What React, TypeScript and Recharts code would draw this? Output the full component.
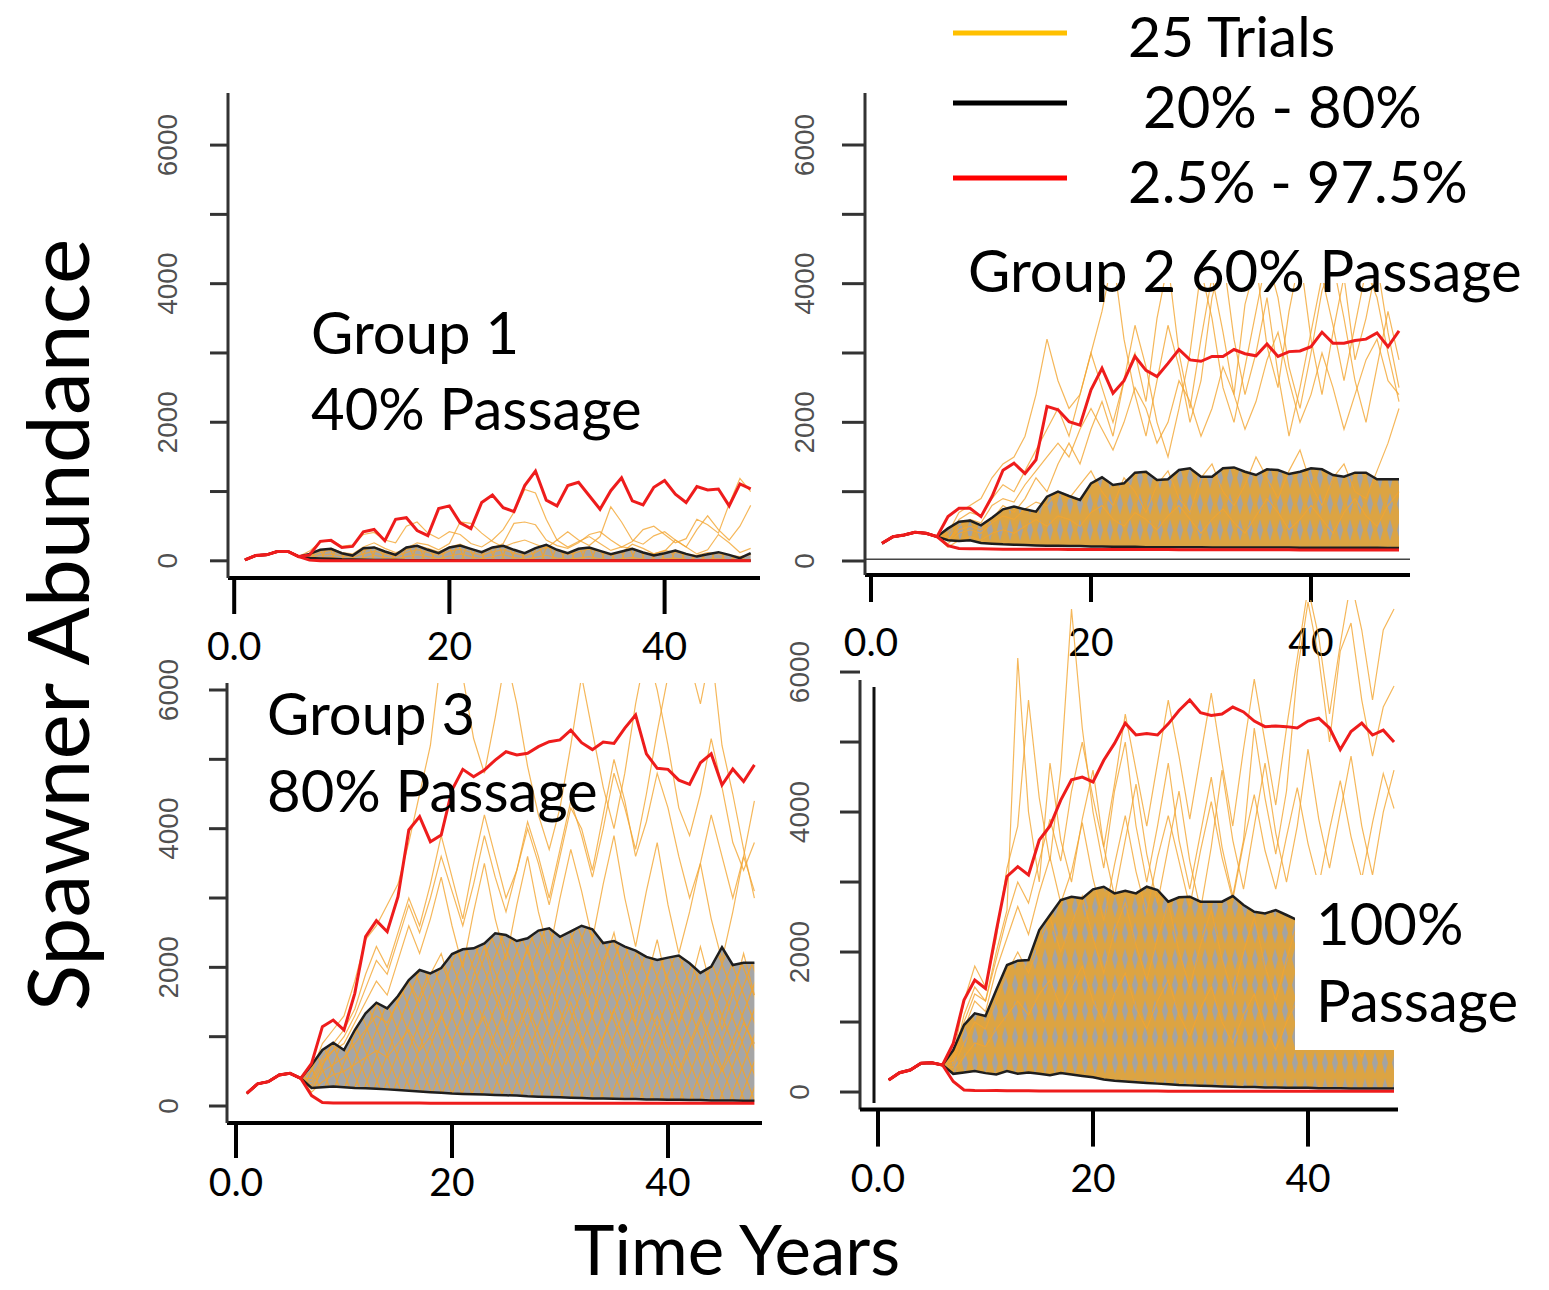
import React from "react";
import { ComposedChart, Line, Area, XAxis, YAxis, ReferenceLine } from "recharts";

// simulation years (x axis)
const YEARS = [
  1, 2, 3, 4, 5, 6, 7, 8, 9, 10, 11, 12, 13, 14, 15, 16, 17, 18, 19, 20, 21, 22, 23, 24,
  25, 26, 27, 28, 29, 30, 31, 32, 33, 34, 35, 36, 37, 38, 39, 40, 41, 42, 43, 44, 45, 46, 47, 48,
];
const X_TICKS = [0, 20, 40];
const Y_TICKS = [0, 1000, 2000, 3000, 4000, 5000, 6000];

// ---- Group 1, 40% passage ----
const P1_START = [13, 76, 86, 135, 135, 61];
const P1_HI95 = [...P1_START, 86, 281, 295, 193, 208, 418, 452, 290, 598, 622, 437, 364, 754, 793, 549, 466, 842, 949, 768, 710, 1086, 1295, 876, 793, 1086, 1134, 939, 744, 1012, 1198, 866, 807, 1061, 1159, 963, 842, 1071, 1022, 1037, 793, 1110, 1037];
const P1_HI80 = [...P1_START, 100, 159, 173, 110, 76, 183, 193, 135, 86, 193, 217, 159, 110, 193, 222, 173, 125, 193, 217, 159, 110, 183, 232, 159, 110, 173, 193, 144, 95, 135, 173, 120, 76, 110, 149, 100, 61, 95, 125, 86, 37, 110];
const P1_LO80 = [...P1_START, 40, 35, 30, 22, 18, 14, 12, 10, 10, 9, 8, 8, 7, 7, 6, 6, 6, 5, 5, 5, 5, 5, 4, 4, 4, 4, 4, 4, 3, 3, 3, 3, 3, 3, 3, 3, 2, 2, 2, 2, 2, 2];
const P1_LO95 = [...P1_START, 10, 2, 0, 0, 0, 0, 0, 0, 0, 0, 0, 0, 0, 0, 0, 0, 0, 0, 0, 0, 0, 0, 0, 0, 0, 0, 0, 0, 0, 0, 0, 0, 0, 0, 0, 0, 0, 0, 0, 0, 0, 0];
const P1_TRIALS = [
  [...P1_START, 140, 270, 300, 210, 230, 380, 410, 300, 260, 500, 560, 400, 320, 420, 380, 250, 200, 300, 450, 700, 1030, 980, 600, 300, 200, 280, 350, 250, 150, 200, 180, 120, 100, 150, 120, 90, 80, 120, 100, 80, 60, 90],
  [...P1_START, 90, 150, 180, 120, 100, 200, 260, 180, 120, 160, 220, 180, 130, 200, 240, 170, 120, 180, 250, 540, 560, 520, 300, 220, 180, 260, 380, 420, 300, 200, 280, 450, 500, 380, 260, 320, 600, 520, 400, 820, 1190, 1000],
  [...P1_START, 60, 120, 150, 100, 80, 150, 200, 140, 100, 180, 260, 230, 160, 250, 560, 540, 400, 280, 200, 260, 300, 240, 180, 300, 420, 300, 220, 350, 780, 560, 300, 240, 360, 420, 300, 200, 450, 650, 450, 300, 500, 800],
  [...P1_START, 40, 80, 100, 70, 50, 100, 140, 100, 60, 120, 160, 120, 80, 140, 170, 120, 80, 130, 160, 110, 70, 120, 200, 150, 90, 130, 170, 130, 80, 120, 240, 180, 100, 140, 300, 200, 100, 160, 380, 260, 120, 180],
  [...P1_START, 20, 40, 60, 30, 20, 40, 80, 50, 30, 60, 90, 60, 30, 70, 100, 60, 30, 60, 90, 50, 20, 50, 80, 40, 20, 40, 60, 30, 10, 30, 50, 20, 10, 30, 40, 20, 10, 20, 30, 10, 5, 20],
];

// ---- Group 2, 60% passage ----
const P2_START = [255, 351, 375, 413, 400, 351];
const P2_HI95 = [...P2_START, 640, 760, 760, 640, 930, 1310, 1410, 1260, 1460, 2230, 2180, 2010, 1960, 2470, 2780, 2420, 2600, 2950, 2750, 2660, 2850, 3050, 2900, 2880, 2950, 2950, 3050, 2990, 2960, 3130, 2950, 3020, 3030, 3090, 3300, 3140, 3140, 3180, 3200, 3290, 3090, 3320];
const P2_HI80 = [...P2_START, 470, 567, 582, 514, 625, 745, 784, 745, 711, 928, 1000, 937, 880, 1120, 1207, 1096, 1120, 1274, 1288, 1168, 1178, 1312, 1337, 1216, 1216, 1337, 1350, 1288, 1240, 1322, 1312, 1254, 1288, 1337, 1322, 1240, 1216, 1274, 1274, 1178, 1178, 1178];
const P2_LO80 = [...P2_START, 300, 290, 300, 260, 250, 240, 235, 230, 225, 220, 220, 215, 215, 210, 210, 205, 205, 205, 200, 200, 200, 200, 198, 198, 196, 196, 195, 195, 194, 194, 193, 193, 192, 192, 191, 191, 190, 190, 190, 190, 189, 189];
const P2_LO95 = [...P2_START, 220, 180, 175, 175, 172, 170, 170, 170, 168, 168, 168, 166, 166, 166, 165, 165, 165, 165, 164, 164, 164, 163, 163, 163, 162, 162, 162, 162, 161, 161, 161, 161, 160, 160, 160, 160, 160, 160, 160, 160, 160, 160];
const P2_TRIALS = [
  [...P2_START, 400, 700, 800, 900, 1200, 1400, 1500, 1800, 2400, 3200, 2600, 2200, 2400, 3000, 2500, 2000, 2600, 3400, 2800, 2000, 1500, 2200, 3000, 4200, 3500, 2500, 2000, 2800, 3600, 4400, 3800, 2800, 2200, 3000, 3900, 4300, 3500, 2600, 2000, 2800, 3600, 2900],
  [...P2_START, 350, 600, 700, 650, 900, 1100, 1000, 1300, 1600, 1900, 2200, 1800, 2400, 3000, 3600, 4400, 3200, 2400, 1800, 2600, 3400, 2800, 2000, 2600, 3800, 4400, 3200, 2400, 3000, 3800, 2700, 1800, 2500, 3300, 4100, 3400, 2600, 3400, 4200, 3800, 3000, 2300],
  [...P2_START, 300, 500, 600, 550, 800, 900, 850, 1100, 1300, 1500, 1700, 1500, 1900, 2200, 1900, 1600, 2000, 2500, 2200, 1700, 2000, 2600, 2300, 1800, 2200, 2800, 2400, 1900, 2300, 2900, 3300, 2600, 2000, 2400, 3000, 2500, 1900, 2400, 2900, 3200, 2600, 2400],
  [...P2_START, 250, 400, 450, 400, 550, 650, 600, 750, 850, 800, 1000, 900, 1100, 1300, 1000, 800, 1200, 1000, 700, 1100, 1300, 900, 700, 1200, 1400, 1000, 800, 1100, 1500, 1200, 900, 1300, 1600, 1100, 800, 1200, 1400, 1000, 900, 1300, 1700, 2200],
  [...P2_START, 200, 300, 350, 300, 400, 450, 400, 500, 600, 500, 650, 600, 500, 700, 800, 600, 500, 700, 600, 450, 650, 800, 600, 400, 600, 750, 550, 400, 650, 900, 700, 450, 600, 800, 600, 400, 700, 900, 650, 500, 800, 1000],
  [...P2_START, 300, 450, 500, 450, 600, 800, 700, 900, 1200, 1000, 1400, 1700, 1400, 1900, 2300, 1800, 2600, 3000, 2300, 3500, 4300, 3000, 2200, 3200, 4100, 3300, 2400, 3700, 4300, 3100, 2500, 3600, 4400, 3200, 2400, 3300, 4100, 2900, 3500, 4300, 3300, 2500],
];

// ---- Group 3, 80% passage ----
const P3_START = [183, 320, 351, 447, 471, 399];
const P3_HI95 = [...P3_START, 615, 1144, 1240, 1096, 1625, 2442, 2673, 2514, 3019, 3981, 4173, 3812, 3909, 4558, 4856, 4750, 4846, 4990, 5110, 5063, 5087, 5183, 5255, 5280, 5420, 5240, 5140, 5250, 5230, 5450, 5640, 5080, 4870, 4856, 4700, 4640, 4950, 5080, 4630, 4860, 4680, 4920];
const P3_HI80 = [...P3_START, 591, 808, 913, 808, 1096, 1337, 1490, 1409, 1587, 1817, 1962, 1913, 1990, 2192, 2260, 2274, 2346, 2490, 2466, 2380, 2420, 2530, 2562, 2440, 2520, 2600, 2550, 2350, 2380, 2300, 2240, 2150, 2106, 2140, 2170, 2058, 1920, 2010, 2290, 2034, 2067, 2067];
const P3_LO80 = [...P3_START, 260, 270, 280, 270, 260, 255, 250, 240, 230, 220, 210, 200, 190, 180, 175, 170, 165, 160, 155, 150, 140, 135, 130, 125, 120, 115, 110, 110, 105, 100, 100, 95, 95, 90, 90, 85, 85, 80, 80, 80, 75, 75];
const P3_LO95 = [...P3_START, 150, 50, 45, 45, 44, 44, 43, 43, 42, 42, 42, 41, 41, 41, 40, 40, 40, 40, 40, 40, 40, 40, 40, 40, 40, 40, 40, 40, 40, 40, 40, 40, 40, 40, 40, 40, 40, 40, 40, 40, 40, 40];
const P3_TRIALS = [
  [...P3_START, 500, 900, 1100, 1300, 1800, 2400, 2600, 2900, 3200, 3800, 4500, 5200, 6500, 7000, 6200, 5300, 4800, 5600, 6500, 5800, 4900, 4200, 3700, 4300, 5200, 6200, 5400, 4600, 4000, 4800, 5800, 6600, 6000, 5200, 4300, 3900, 4500, 5300, 4600, 3800, 3400, 3800],
  [...P3_START, 400, 700, 900, 1100, 1400, 1900, 2300, 2000, 2500, 3000, 2600, 3200, 3900, 3300, 2700, 3500, 4200, 3600, 3000, 3400, 4000, 3500, 2900, 3600, 4300, 4000, 3400, 4200, 5000, 4400, 3600, 4100, 4800, 4300, 3600, 3000, 3500, 4200, 3600, 3000, 3600, 4400],
  [...P3_START, 300, 600, 800, 900, 1200, 1500, 1800, 1600, 2100, 2600, 2200, 2700, 3300, 2600, 2000, 2800, 3500, 2700, 2100, 2900, 3600, 2800, 2200, 3000, 3700, 3100, 2400, 3200, 3900, 3000, 2300, 3100, 3800, 2900, 2200, 2800, 3500, 2700, 2100, 2800, 3600, 3100],
  [...P3_START, 250, 500, 600, 700, 900, 1100, 1300, 1200, 1500, 1800, 1500, 1900, 2200, 1700, 1300, 1900, 2300, 1700, 1200, 1800, 2300, 1700, 1200, 1900, 2400, 1800, 1300, 2000, 2500, 1800, 1200, 1800, 2400, 1700, 1200, 1700, 2300, 1700, 1100, 1600, 2200, 1600],
  [...P3_START, 200, 350, 450, 500, 600, 700, 800, 700, 900, 1100, 800, 1000, 1300, 900, 600, 1000, 1300, 900, 600, 1000, 1400, 900, 600, 1100, 1500, 1000, 600, 1000, 1400, 900, 500, 900, 1300, 800, 500, 900, 1300, 800, 500, 800, 1200, 900],
  [...P3_START, 350, 650, 800, 1000, 1300, 1700, 2100, 1900, 2400, 2900, 2500, 3000, 3600, 3100, 2600, 3200, 3900, 3300, 2800, 3400, 4100, 3600, 3000, 3700, 4400, 3900, 3300, 4000, 4800, 4300, 3700, 4500, 5400, 6200, 6800, 6400, 5800, 6600, 5200, 4500, 3700, 3000],
];

// ---- 100% passage ----
const P4_START = [171, 276, 314, 410, 419, 386];
const P4_HI95 = [...P4_START, 695, 1314, 1600, 1480, 2300, 3080, 3220, 3100, 3600, 3800, 4170, 4460, 4500, 4430, 4740, 4980, 5270, 5100, 5120, 5100, 5260, 5450, 5600, 5420, 5380, 5400, 5500, 5430, 5300, 5220, 5230, 5220, 5200, 5300, 5340, 5200, 4890, 5150, 5270, 5100, 5170, 5000];
const P4_HI80 = [...P4_START, 600, 957, 1124, 1086, 1457, 1814, 1876, 1886, 2314, 2529, 2743, 2790, 2767, 2895, 2933, 2838, 2876, 2838, 2933, 2886, 2719, 2781, 2790, 2719, 2719, 2719, 2800, 2671, 2576, 2552, 2600, 2529, 2457, 2450, 2500, 2400, 2350, 2450, 2400, 2350, 2400, 2400];
const P4_LO80 = [...P4_START, 260, 280, 300, 270, 250, 300, 260, 280, 260, 240, 270, 250, 230, 210, 180, 160, 150, 140, 130, 120, 110, 100, 95, 90, 85, 80, 75, 70, 70, 65, 65, 60, 60, 60, 55, 55, 55, 50, 50, 50, 50, 50];
const P4_LO95 = [...P4_START, 150, 30, 22, 20, 20, 18, 18, 18, 16, 16, 16, 15, 15, 15, 14, 14, 14, 13, 13, 13, 12, 12, 12, 11, 11, 11, 10, 10, 10, 10, 10, 10, 10, 10, 10, 10, 10, 10, 10, 10, 10, 10];
const P4_TRIALS = [
  [...P4_START, 500, 1300, 1800, 1500, 2200, 3200, 3800, 5600, 4200, 3300, 4600, 6900, 5200, 4000, 3200, 4300, 5000, 3800, 3000, 3800, 4700, 3600, 2900, 3700, 4500, 3500, 2800, 3600, 5200, 4200, 3400, 4300, 6000, 7000, 6200, 5000, 6300, 6700, 5600, 4800, 5500, 5800],
  [...P4_START, 450, 1100, 1500, 1300, 2000, 2600, 6200, 4000, 3000, 4700, 3600, 3000, 3900, 4600, 3500, 2800, 3600, 4400, 3400, 2700, 3500, 4300, 3300, 2600, 3500, 4600, 3600, 2900, 3800, 4700, 3700, 3000, 3800, 4900, 3900, 3200, 4000, 4800, 3800, 3100, 4000, 4600],
  [...P4_START, 400, 900, 1300, 1150, 1750, 2200, 2650, 2250, 2850, 3350, 2700, 3150, 3850, 3050, 2450, 3250, 3950, 3150, 2550, 3350, 3950, 3300, 2650, 3450, 4150, 3350, 2750, 3550, 4250, 3450, 2900, 3650, 4350, 3550, 2950, 3750, 4450, 3650, 3050, 3850, 4550, 4050],
  [...P4_START, 350, 700, 1000, 900, 1300, 1700, 2000, 1700, 2100, 2500, 2000, 2400, 2800, 2200, 1700, 2300, 2700, 2100, 1600, 2200, 2700, 2000, 1500, 2100, 2600, 1900, 1400, 2000, 2500, 1800, 1300, 1900, 2400, 1700, 1200, 1800, 2300, 1600, 1100, 1700, 2200, 1500],
  [...P4_START, 300, 500, 700, 650, 900, 1100, 1300, 1100, 1400, 1600, 1200, 1500, 1800, 1300, 1000, 1400, 1700, 1200, 900, 1300, 1600, 1100, 800, 1200, 1500, 1000, 700, 1100, 1400, 900, 600, 1000, 1300, 800, 600, 900, 1200, 800, 500, 900, 1100, 800],
  [...P4_START, 450, 1000, 1400, 1300, 1900, 2500, 3000, 2700, 3300, 3900, 3300, 4300, 5000, 4200, 3500, 4400, 5400, 4600, 3800, 4700, 5600, 4800, 3900, 4800, 5700, 4700, 3800, 4900, 5900, 5000, 4100, 5200, 6200, 7200, 6500, 5400, 6400, 7300, 6600, 5600, 6600, 6900],
];

const buildRows = (hi95: number[], hi80: number[], lo80: number[], lo95: number[], trials: number[][]) =>
  YEARS.map((year, i) => {
    const row: Record<string, any> = { year, hi95: hi95[i], hi80: hi80[i], lo80: lo80[i], lo95: lo95[i], band: [lo80[i], hi80[i]] };
    trials.forEach((t, k) => (row[`t${k + 1}`] = t[i]));
    return row;
  });

const Y_W = 90;
const X_H = 100;
const TOP_PAD = 44; // room above the plot for the top tick label
const TEXT_FONT = "Lato, 'Open Sans', sans-serif";

type PanelCfg = {
  id: string;
  rows: Record<string, any>[];
  trialCount: number;
  plotL: number;
  plotT: number;
  plotR: number;
  plotB: number;
  xDomain: [number, number];
  yDomain: [number, number];
  yTickSize: number;
  yLabelDist: number;
  xTickSize: number;
  xLabelDist: number;
  yAxisLine: boolean;
  fill: "orange" | "gray";
  extras?: React.ReactNode;
};

const Panel = ({ cfg }: { cfg: PanelCfg }) => {
  const plotW = cfg.plotR - cfg.plotL;
  const plotH = cfg.plotB - cfg.plotT;
  const patId = `pat-${cfg.id}`;

  const yTick = (props: any) => {
    const { x, y, payload } = props;
    if (payload.value % 2000 !== 0) return <g />;
    const cx = x - (cfg.yLabelDist - cfg.yTickSize);
    return (
      <text
        x={cx}
        y={y}
        transform={`rotate(-90 ${cx} ${y})`}
        textAnchor="middle"
        dominantBaseline="central"
        fontFamily="'Liberation Sans', Arial, sans-serif"
        fontSize={28}
        fill="#505050"
      >
        {payload.value}
      </text>
    );
  };

  const xTick = (props: any) => {
    const { x, y, payload } = props;
    return (
      <text
        x={x}
        y={y + (cfg.xLabelDist - cfg.xTickSize)}
        textAnchor="middle"
        dominantBaseline="central"
        fontFamily={TEXT_FONT}
        fontSize={39}
        fill="#000"
      >
        {payload.value === 0 ? "0.0" : payload.value}
      </text>
    );
  };

  return (
    <div style={{ position: "absolute", left: cfg.plotL - Y_W, top: cfg.plotT - TOP_PAD }}>
      <ComposedChart
        width={Y_W + plotW}
        height={TOP_PAD + plotH + X_H}
        data={cfg.rows}
        margin={{ top: TOP_PAD, right: 0, bottom: 0, left: 0 }}
      >
        <defs>
          {cfg.fill === "orange" ? (
            <pattern id={patId} width={10} height={26} patternUnits="userSpaceOnUse">
              <rect width={10} height={26} fill="#dca443" />
              <path d="M5 2 L8 13 L5 24 L2 13 Z" fill="#a3a3a3" />
            </pattern>
          ) : (
            <pattern id={patId} width={10} height={26} patternUnits="userSpaceOnUse">
              <rect width={10} height={26} fill="#a6a6a6" />
              <path d="M0 0 L5 13 L0 26 M10 0 L5 13 L10 26" stroke="#e9a43a" strokeWidth={1.3} fill="none" />
            </pattern>
          )}
        </defs>
        <XAxis
          dataKey="year"
          type="number"
          domain={cfg.xDomain}
          allowDataOverflow
          ticks={X_TICKS}
          interval={0}
          height={X_H}
          tickSize={cfg.xTickSize}
          tickMargin={0}
          axisLine={{ stroke: "#000", strokeWidth: 4 }}
          tickLine={{ stroke: "#000", strokeWidth: 4 }}
          tick={xTick}
        />
        <YAxis
          type="number"
          domain={cfg.yDomain}
          allowDataOverflow
          ticks={Y_TICKS}
          interval={0}
          width={Y_W}
          tickSize={cfg.yTickSize}
          tickMargin={0}
          axisLine={cfg.yAxisLine ? { stroke: "#333", strokeWidth: 3 } : false}
          tickLine={{ stroke: "#333", strokeWidth: 3 }}
          tick={yTick}
        />
        <Area
          type="linear"
          dataKey="band"
          stroke="none"
          fill={`url(#${patId})`}
          fillOpacity={1}
          isAnimationActive={false}
        />
        {Array.from({ length: cfg.trialCount }, (_, k) => (
          <Line
            key={k}
            type="linear"
            dataKey={`t${k + 1}`}
            stroke="#f2a531"
            strokeOpacity={0.8}
            strokeWidth={1.2}
            dot={false}
            isAnimationActive={false}
          />
        ))}
        <Line type="linear" dataKey="lo80" stroke="#1e1e1e" strokeWidth={2.5} dot={false} isAnimationActive={false} />
        <Line type="linear" dataKey="hi80" stroke="#1e1e1e" strokeWidth={2.5} dot={false} isAnimationActive={false} />
        <Line type="linear" dataKey="lo95" stroke="#ee1c1c" strokeWidth={3} dot={false} isAnimationActive={false} />
        <Line type="linear" dataKey="hi95" stroke="#ee1c1c" strokeWidth={3} dot={false} isAnimationActive={false} />
        {cfg.extras}
      </ComposedChart>
    </div>
  );
};

const PANELS: PanelCfg[] = [
  {
    id: "g1",
    rows: buildRows(P1_HI95, P1_HI80, P1_LO80, P1_LO95, P1_TRIALS),
    trialCount: P1_TRIALS.length,
    plotL: 228,
    plotT: 93,
    plotR: 760,
    plotB: 578,
    xDomain: [-0.576, 48.866],
    yDomain: [-248, 6752],
    yTickSize: 18,
    yLabelDist: 60,
    xTickSize: 36,
    xLabelDist: 67,
    yAxisLine: true,
    fill: "gray",
  },
  {
    id: "g2",
    rows: buildRows(P2_HI95, P2_HI80, P2_LO80, P2_LO95, P2_TRIALS),
    trialCount: P2_TRIALS.length,
    plotL: 865,
    plotT: 93,
    plotR: 1410,
    plotB: 575,
    xDomain: [-0.545, 49.0],
    yDomain: [-202, 6750],
    yTickSize: 23,
    yLabelDist: 60,
    xTickSize: 27,
    xLabelDist: 66,
    yAxisLine: true,
    fill: "orange",
    extras: <ReferenceLine y={25} stroke="#444" strokeWidth={1.5} ifOverflow="visible" />,
  },
  {
    id: "g3",
    rows: buildRows(P3_HI95, P3_HI80, P3_LO80, P3_LO95, P3_TRIALS),
    trialCount: P3_TRIALS.length,
    plotL: 226.5,
    plotT: 683,
    plotR: 762,
    plotB: 1123,
    xDomain: [-0.833, 48.75],
    yDomain: [-245, 6101],
    yTickSize: 18,
    yLabelDist: 58,
    xTickSize: 35,
    xLabelDist: 58,
    yAxisLine: true,
    fill: "gray",
  },
  {
    id: "g4",
    rows: buildRows(P4_HI95, P4_HI80, P4_LO80, P4_LO95, P4_TRIALS),
    trialCount: P4_TRIALS.length,
    plotL: 860,
    plotT: 600,
    plotR: 1398,
    plotB: 1109.6,
    xDomain: [-1.674, 48.37],
    yDomain: [-251, 7029],
    yTickSize: 20,
    yLabelDist: 60,
    xTickSize: 37,
    xLabelDist: 67,
    yAxisLine: false,
    fill: "orange",
    extras: (
      <>
        <ReferenceLine
          segment={[{ x: -1.674, y: -251 }, { x: -1.674, y: 5886 }]}
          stroke="#333"
          strokeWidth={3}
          ifOverflow="visible"
        />
        <ReferenceLine
          segment={[{ x: -0.372, y: -157 }, { x: -0.372, y: 5786 }]}
          stroke="#111"
          strokeWidth={3}
          ifOverflow="visible"
        />
      </>
    ),
  },
];

const BIG = 58;

export default function App() {
  return (
    <div
      style={{
        position: "absolute",
        left: 0,
        top: 0,
        width: 1549,
        height: 1290,
        background: "#fff",
        overflow: "hidden",
      }}
    >
      {PANELS.map((p) => (
        <Panel key={p.id} cfg={p} />
      ))}
      <svg
        width={1549}
        height={1290}
        style={{ position: "absolute", left: 0, top: 0, pointerEvents: "none" }}
        fontFamily={TEXT_FONT}
      >
        {/* legend */}
        <line x1={953} x2={1067} y1={33} y2={33} stroke="#ffc000" strokeWidth={5} />
        <line x1={953} x2={1067} y1={103} y2={103} stroke="#000" strokeWidth={5} />
        <line x1={953} x2={1067} y1={178} y2={178} stroke="#ff0000" strokeWidth={5} />
        <text x={1128} y={57} fontSize={57}>25 Trials</text>
        <text x={1143} y={128} fontSize={BIG}>20% - 80%</text>
        <text x={1128} y={203} fontSize={BIG}>2.5% - 97.5%</text>

        {/* panel captions */}
        <text x={311} y={354} fontSize={BIG}>Group 1</text>
        <text x={311} y={430} fontSize={BIG}>40% Passage</text>

        <rect x={963} y={236} width={565} height={47} fill="#fff" />
        <text x={968} y={292} fontSize={BIG}>Group 2 60% Passage</text>

        <text x={267} y={735} fontSize={BIG}>Group 3</text>
        <text x={267} y={812} fontSize={BIG}>80% Passage</text>

        <rect x={1295} y={875} width={228} height={175} fill="#fff" />
        <text x={1316} y={945} fontSize={BIG}>100%</text>
        <text x={1316} y={1022} fontSize={BIG}>Passage</text>

        {/* axis titles */}
        <text
          x={55}
          y={625}
          transform="rotate(-90 55 625)"
          textAnchor="middle"
          dominantBaseline="central"
          fontSize={86}
        >
          Spawner Abundance
        </text>
        <text x={737} y={1275} textAnchor="middle" fontSize={69}>
          Time Years
        </text>
      </svg>
    </div>
  );
}
